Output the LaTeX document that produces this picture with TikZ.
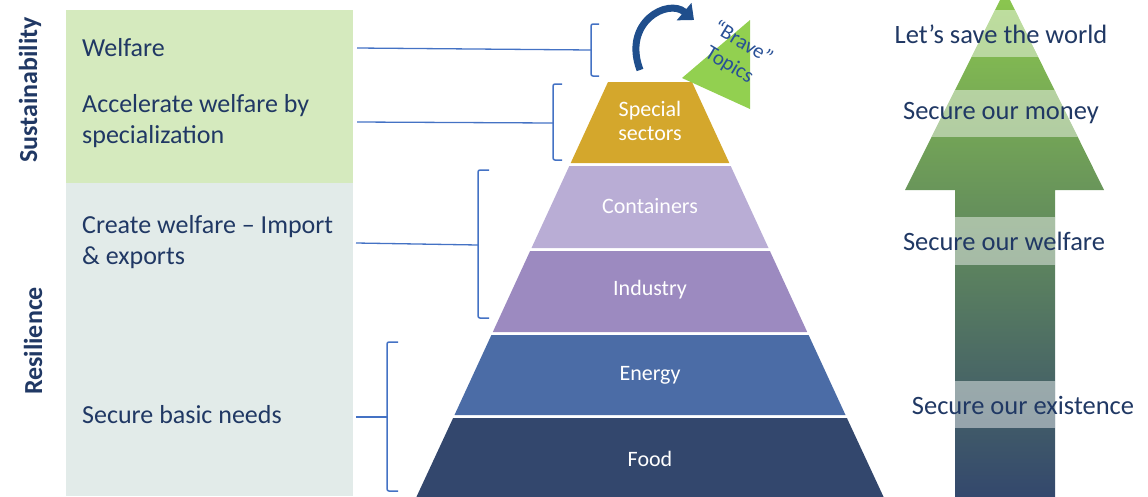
\documentclass[tikz,border=0pt]{standalone}
\usepackage{fontspec}
\setmainfont{Carlito}
\usetikzlibrary{arrows.meta}
\definecolor{txt}{RGB}{32,56,100}
\definecolor{greenbox}{RGB}{213,234,190}
\definecolor{graybox}{RGB}{226,235,233}
\definecolor{brk}{RGB}{68,114,196}
\definecolor{cspecial}{RGB}{212,167,44}
\definecolor{ccont}{RGB}{185,173,213}
\definecolor{cind}{RGB}{156,138,192}
\definecolor{cenergy}{RGB}{75,108,166}
\definecolor{cfood}{RGB}{51,71,109}
\definecolor{tri}{RGB}{146,208,80}
\definecolor{bravetxt}{RGB}{40,80,150}
\definecolor{curv}{RGB}{31,78,140}
\definecolor{atop}{RGB}{140,200,78}
\definecolor{amid}{RGB}{100,142,90}
\definecolor{abot}{RGB}{51,71,109}
\tikzset{
  lefttxt/.style={anchor=west, text=txt, align=left, font=\fontsize{26}{31}\selectfont, inner sep=0pt},
  sidetxt/.style={text=txt, font=\bfseries\fontsize{26}{30}\selectfont, rotate=90, inner sep=0pt},
  pyrtxt/.style={text=white, align=center, font=\fontsize{22}{24}\selectfont, inner sep=0pt},
  righttxt/.style={text=txt, font=\fontsize{26.5}{30}\selectfont, inner sep=0pt},
  brkline/.style={draw=brk, line width=1.3pt},
  brkshape/.style={draw=brk, line width=1.5pt, rounded corners=2pt},
}
\begin{document}
\begin{tikzpicture}[x=1pt,y=-1pt]
\useasboundingbox (0,0) rectangle (1148,496);
% left boxes
\fill[greenbox] (66,10) rectangle (353,183);
\fill[graybox] (66,183) rectangle (353,496);
\node[sidetxt] (sust) at (30,90) {Sustainability};
\node[sidetxt] (resil) at (33,341) {Resilience};
\node[lefttxt] (welf) at (82,48) {Welfare};
\node[lefttxt] (accel) at (82,121) {Accelerate welfare by\\specialization};
\node[lefttxt] (create) at (82,242) {Create welfare -- Import\\\& exports};
\node[lefttxt] (basic) at (82,415) {Secure basic needs};
% pyramid
\fill[cspecial] (608,82) -- (692,82) -- (729.3,163) -- (570.7,163) -- cycle;
\fill[ccont] (569.3,166) -- (730.7,166) -- (768.5,248) -- (531.5,248) -- cycle;
\fill[cind] (530.1,251) -- (769.9,251) -- (807.2,332) -- (492.8,332) -- cycle;
\fill[cenergy] (491.4,335) -- (808.6,335) -- (845.5,415) -- (454.5,415) -- cycle;
\fill[cfood] (453.1,418) -- (846.9,418) -- (885,500) -- (415,500) -- cycle;
\node[pyrtxt] (special) at (650,121) {Special\\sectors};
\node[pyrtxt] (cont) at (650,206) {Containers};
\node[pyrtxt] (ind) at (650,290) {Industry};
\node[pyrtxt] (energy) at (650,375) {Energy};
\node[pyrtxt] (food) at (650,459) {Food};
% brave topics
\fill[tri] (682,78) -- (750,20) -- (750,109) -- cycle;
\node[text=bravetxt, align=center, rotate=-31, font=\fontsize{21}{26}\selectfont, inner sep=0pt] (brave) at (736,54) {``Brave''\\Topics};
\draw[curv, line width=7pt, -{Triangle[length=13pt,width=22pt]}] (640,70) .. controls (622,22) and (668,-2) .. (694,20);
% brackets
\coordinate (w0) at (357,48); \coordinate (w1) at (591,50);
\coordinate (a0) at (357,122); \coordinate (a1) at (553,123);
\coordinate (c0) at (356,243); \coordinate (c1) at (478,245);
\coordinate (s0) at (356,417); \coordinate (s1) at (387,417);
\draw[brkline] (w0) -- (w1);
\draw[brkline] (a0) -- (a1);
\draw[brkline] (c0) -- (c1);
\draw[brkline] (s0) -- (s1);
\draw[brkshape] (599,24) -- (591,24) -- (591,76) -- (599,76);
\draw[brkshape] (562,84) -- (553,84) -- (553,160) -- (562,160);
\draw[brkshape] (489,170) -- (478,170) -- (478,318) -- (489,318);
\draw[brkshape] (398,342) -- (387,342) -- (387,491) -- (398,491);
% right arrow
\shade[top color=atop, middle color=amid, bottom color=abot]
  (1005,-10) -- (1104,190) -- (1055,190) -- (1055,500) -- (955,500) -- (955,190) -- (905,190) -- cycle;
\begin{scope}
  \clip (1005,-10) -- (1104,190) -- (1055,190) -- (1055,500) -- (955,500) -- (955,190) -- (905,190) -- cycle;
  \fill[white, opacity=0.45] (890,10) rectangle (1120,57);
  \fill[white, opacity=0.45] (890,90) rectangle (1120,137);
  \fill[white, opacity=0.45] (890,217) rectangle (1120,265);
  \fill[white, opacity=0.45] (890,381) rectangle (1120,428);
\end{scope}
\node[righttxt] (save) at (1001,34) {Let’s save the world};
\node[righttxt] (money) at (1001,113) {Secure our money};
\node[righttxt] (welfr) at (1004,241) {Secure our welfare};
\node[righttxt] (exist) at (1023,405) {Secure our existence};
\end{tikzpicture}
\end{document}
